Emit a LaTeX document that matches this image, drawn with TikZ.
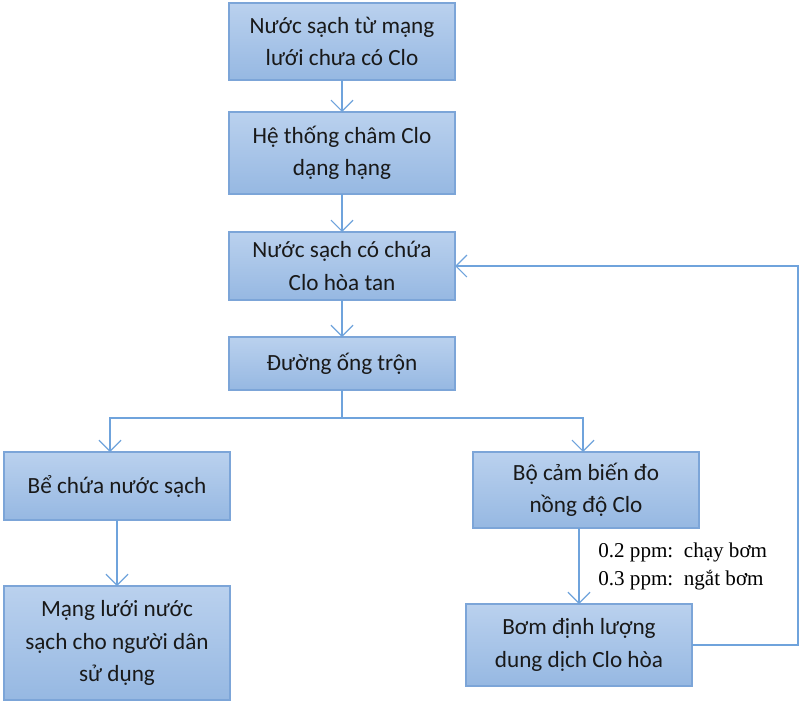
\documentclass[tikz,border=0pt]{standalone}
\usepackage{fontspec}
\setmainfont{Carlito}
\newfontfamily\rulefont{Liberation Serif}
\usetikzlibrary{positioning,arrows.meta,shadows}

\definecolor{boxtop}{HTML}{BAD1EE}
\definecolor{boxbottom}{HTML}{96B8E2}
\definecolor{boxline}{HTML}{7CA5D8}
\definecolor{flowline}{HTML}{6FA3DC}

\tikzset{
  process/.style={rectangle, draw=boxline, line width=0.8pt, outer sep=0pt,
    top color=boxtop, bottom color=boxbottom,
    minimum width=4.52cm, align=center, text=black!90,
    font=\fontsize{13.2}{18.5}\selectfont,
    drop shadow={shadow xshift=0.6pt, shadow yshift=-0.6pt, opacity=0.25}},
  flow/.style={draw=flowline, line width=0.7pt,
    -{Straight Barb[length=2.2mm,width=4.4mm]}},
  rule/.style={align=left, inner sep=0pt, font=\rulefont\fontsize{12}{15.6}\selectfont}
}

\begin{document}
\begin{tikzpicture}
  \useasboundingbox (0,0) rectangle (16.08,-14.14);
  % main column
  \node[process, minimum height=1.54cm] (node1) at (6.84,-0.83)
    {Nước sạch từ mạng\\lưới chưa có Clo};
  \node[process, minimum height=1.64cm] (node2) [below=0.64cm of node1]
    {Hệ thống châm Clo\\dạng hạng};
  \node[process, minimum height=1.36cm] (node3) [below=0.76cm of node2]
    {Nước sạch có chứa\\Clo hòa tan};
  \node[process, minimum height=1.06cm] (node4) [below=0.74cm of node3]
    {Đường ống trộn};
  \coordinate[below=0.56cm of node4] (split);
  % left branch
  \node[process, minimum height=1.36cm] (node5) [below=1.24cm of node4, xshift=-4.5cm]
    {Bể chứa nước sạch};
  \node[process, minimum height=2.28cm] (node7) [below=1.32cm of node5]
    {Mạng lưới nước\\sạch cho người dân\\sử dụng};
  % right branch
  \node[process, minimum height=1.52cm] (node6) [below=1.24cm of node4, xshift=4.88cm]
    {Bộ cảm biến đo\\nồng độ Clo};
  \node[process, minimum height=1.64cm] (node8) [below=1.52cm of node6, xshift=-0.14cm]
    {Bơm định lượng\\dung dịch Clo hòa};
  \node[rule, anchor=west] (rules) at (11.96,-11.33)
    {0.2 ppm:\ \ chạy bơm\\0.3 ppm:\ \ ngắt bơm};
  % Draw the edges
  \draw[flow] (node1) -- (node2);
  \draw[flow] (node2) -- (node3);
  \draw[flow] (node3) -- (node4);
  \draw[draw=flowline, line width=0.7pt] (node4) -- (split);
  \draw[flow] (split) -| ([xshift=-0.14cm]node5.north);
  \draw[flow] (split) -| ([xshift=-0.06cm]node6.north);
  \draw[flow] (node5) -- (node7);
  \draw[flow] (node8.north |- node6.south) -- (node8);
  \draw[flow] (node8.east) -- ++(2.12cm,0) |- (node3.east);
\end{tikzpicture}
\end{document}
